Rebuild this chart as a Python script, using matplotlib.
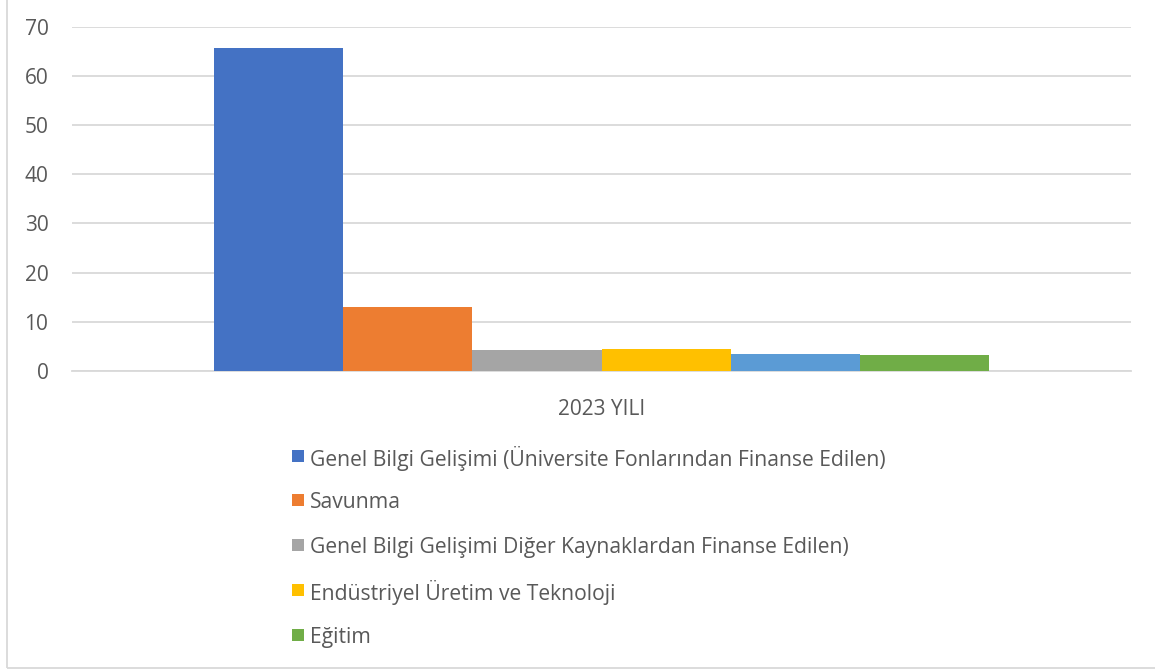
import matplotlib.pyplot as plt
from matplotlib.patches import Rectangle

plt.rcParams['font.family'] = ['Open Sans', 'DejaVu Sans']

category = ['2023 YILI']
labels = ['Genel Bilgi Gelişimi (Üniversite Fonlarından Finanse Edilen)',
          'Savunma',
          'Genel Bilgi Gelişimi Diğer Kaynaklardan Finanse Edilen)',
          'Endüstriyel Üretim ve Teknoloji',
          '',
          'Eğitim']
values = [65.6, 13.1, 4.3, 4.5, 3.5, 3.3]
colors = ['#4472C4', '#ED7D31', '#A5A5A5', '#FFC000', '#5B9BD5', '#70AD47']

W, H = 1155, 671
fig = plt.figure(figsize=(W/100, H/100), dpi=100)
ax = fig.add_axes([72/W, 300/H, (1131-72)/W, (644.3-300)/H])

w = 0.1221
n = len(values)
for i, v in enumerate(values):
    off = (i - (n-1)/2) * w
    ax.bar(off, v, width=w, color=colors[i], zorder=3)

ax.set_xlim(-0.5, 0.5)
ax.set_ylim(0, 70)
ax.set_yticks(range(0, 71, 10))
ax.set_xticks([0])
ax.set_xticklabels(category)
ax.yaxis.grid(True, color='#D9D9D9', linewidth=1.3, zorder=0)
for s in ['top', 'right', 'left']:
    ax.spines[s].set_visible(False)
ax.spines['bottom'].set_color('#D9D9D9')
ax.spines['bottom'].set_linewidth(1.3)
ax.tick_params(axis='both', length=0, labelsize=15, colors='#595959')
ax.tick_params(axis='y', pad=17)
ax.tick_params(axis='x', pad=20)

# legend, one row per labelled series
row_y = [456, 500, 545, 590, 635]
k = 0
for lab, col in zip(labels, colors):
    if not lab:
        continue
    y = row_y[k]
    fig.patches.append(Rectangle((292/W, 1 - (y + 6)/H), 12/W, 12/H,
                                 transform=fig.transFigure, facecolor=col,
                                 edgecolor='none'))
    fig.text(310/W, 1 - y/H, lab, fontsize=15.2, color='#595959',
             va='center_baseline', ha='left')
    k += 1

# chart border
fig.patches.append(Rectangle((7/W, 3/H), 1.2, 1.2, transform=fig.transFigure,
                             fill=False, edgecolor='#D9D9D9', linewidth=1.3))

fig.savefig('out.png', dpi=100)
